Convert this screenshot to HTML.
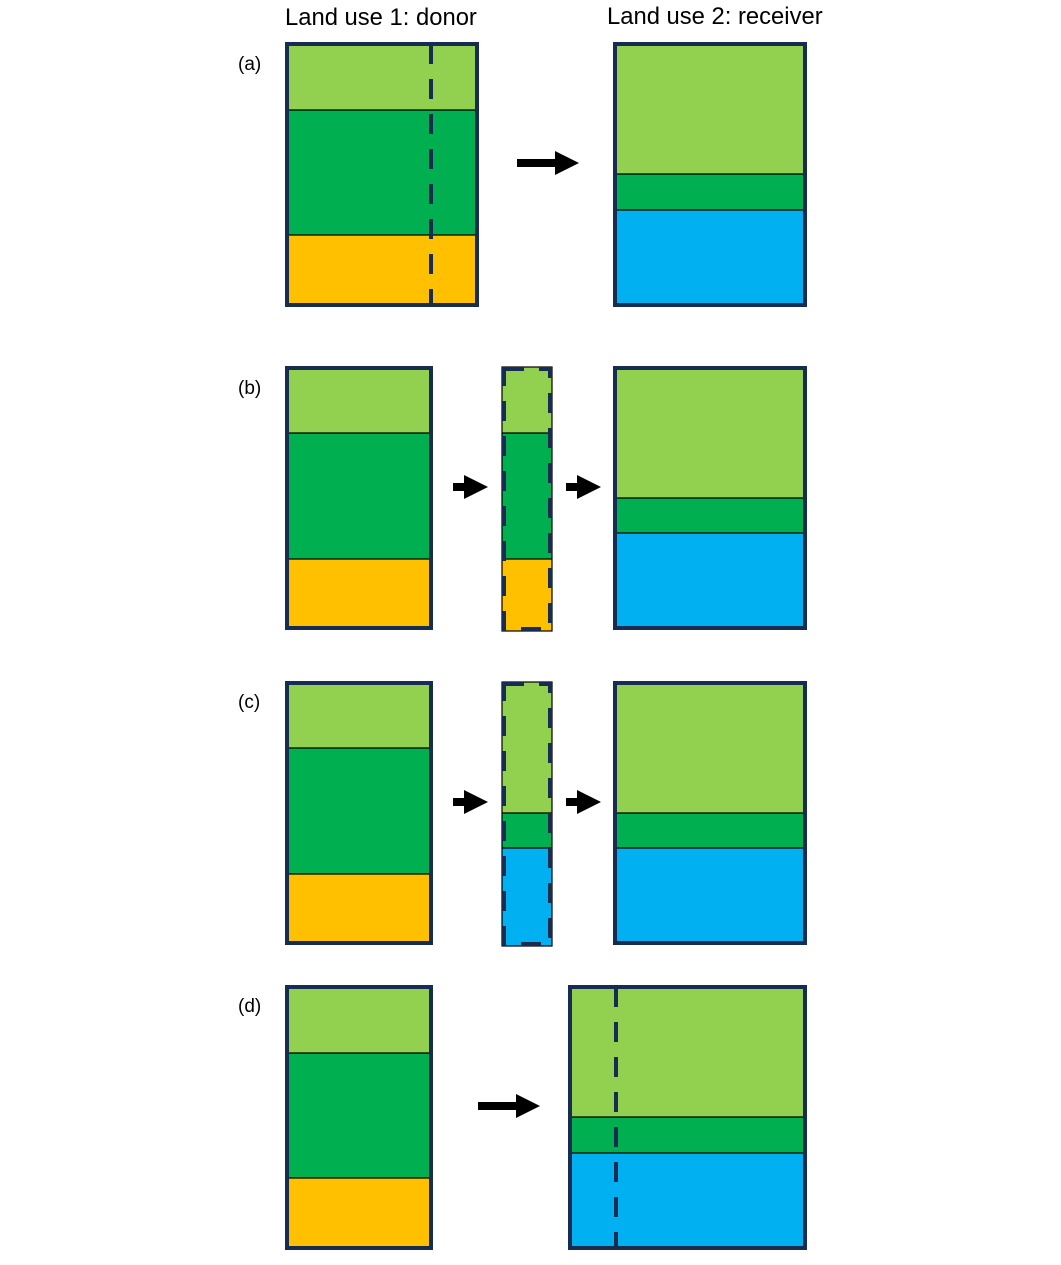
<!DOCTYPE html>
<html><head><meta charset="utf-8"><style>
html,body{margin:0;padding:0;background:#fff;width:1061px;height:1265px;overflow:hidden}
svg{display:block}
text{font-family:"Liberation Sans",sans-serif;fill:#000}
</style></head><body>
<svg width="1061" height="1265" viewBox="0 0 1061 1265" xmlns="http://www.w3.org/2000/svg">
<defs><style>
.f{stroke:#172c51;stroke-width:4;fill:none}
.ln{stroke:#000;stroke-width:1.2}
.dl{stroke:#172c51;stroke-width:4;stroke-dasharray:20 15}
.lg{fill:#92d050}.g{fill:#00b050}.y{fill:#ffc000}.b{fill:#00b0f0}
</style></defs>
<text x="285" y="25" font-size="23.8">Land use 1: donor</text>
<text x="607" y="24" font-size="23.8">Land use 2: receiver</text>
<text x="238" y="70" font-size="19">(a)</text>
<text x="238" y="394" font-size="19">(b)</text>
<text x="238" y="708" font-size="19">(c)</text>
<text x="238" y="1012" font-size="19">(d)</text>

<!-- (a) donor -->
<rect class="lg" x="287" y="44" width="190" height="66"/>
<rect class="g" x="287" y="110" width="190" height="125"/>
<rect class="y" x="287" y="235" width="190" height="70"/>
<line class="ln" x1="287" y1="110" x2="477" y2="110"/>
<line class="ln" x1="287" y1="235" x2="477" y2="235"/>
<line class="dl" x1="431" y1="44" x2="431" y2="305"/>
<rect class="f" x="287" y="44" width="190" height="261"/>
<polygon points="517,159 555,159 555,151 579,163 555,175 555,167 517,167" fill="#000"/>
<!-- (a) receiver -->
<rect class="lg" x="615" y="44" width="190" height="130"/>
<rect class="g" x="615" y="174" width="190" height="36"/>
<rect class="b" x="615" y="210" width="190" height="95"/>
<line class="ln" x1="615" y1="174" x2="805" y2="174"/>
<line class="ln" x1="615" y1="210" x2="805" y2="210"/>
<rect class="f" x="615" y="44" width="190" height="261"/>

<!-- (b) donor -->
<rect class="lg" x="287" y="368" width="144" height="65"/>
<rect class="g" x="287" y="433" width="144" height="126"/>
<rect class="y" x="287" y="559" width="144" height="69"/>
<line class="ln" x1="287" y1="433" x2="431" y2="433"/>
<line class="ln" x1="287" y1="559" x2="431" y2="559"/>
<rect class="f" x="287" y="368" width="144" height="260"/>
<polygon points="453,483 464,483 464,475 488,487 464,499 464,491 453,491" fill="#000"/>
<!-- (b) strip -->
<rect class="lg" x="502" y="367" width="50" height="66"/>
<rect class="g" x="502" y="433" width="50" height="126"/>
<rect class="y" x="502" y="559" width="50" height="72"/>
<line class="ln" x1="502" y1="433" x2="552" y2="433"/>
<line class="ln" x1="502" y1="559" x2="552" y2="559"/>
<rect x="502" y="367" width="50" height="264" fill="none" stroke="#000" stroke-width="1.2"/>
<rect x="504" y="369" width="46" height="260" fill="none" stroke="#172c51" stroke-width="4" stroke-dasharray="20 15"/>
<polygon points="566,483 577,483 577,475 601,487 577,499 577,491 566,491" fill="#000"/>
<!-- (b) receiver -->
<rect class="lg" x="615" y="368" width="190" height="130"/>
<rect class="g" x="615" y="498" width="190" height="35"/>
<rect class="b" x="615" y="533" width="190" height="95"/>
<line class="ln" x1="615" y1="498" x2="805" y2="498"/>
<line class="ln" x1="615" y1="533" x2="805" y2="533"/>
<rect class="f" x="615" y="368" width="190" height="260"/>

<!-- (c) donor -->
<rect class="lg" x="287" y="683" width="144" height="65"/>
<rect class="g" x="287" y="748" width="144" height="126"/>
<rect class="y" x="287" y="874" width="144" height="69"/>
<line class="ln" x1="287" y1="748" x2="431" y2="748"/>
<line class="ln" x1="287" y1="874" x2="431" y2="874"/>
<rect class="f" x="287" y="683" width="144" height="260"/>
<polygon points="453,798 464,798 464,790 488,802 464,814 464,806 453,806" fill="#000"/>
<!-- (c) strip -->
<rect class="lg" x="502" y="682" width="50" height="131"/>
<rect class="g" x="502" y="813" width="50" height="35"/>
<rect class="b" x="502" y="848" width="50" height="98"/>
<line class="ln" x1="502" y1="813" x2="552" y2="813"/>
<line class="ln" x1="502" y1="848" x2="552" y2="848"/>
<rect x="502" y="682" width="50" height="264" fill="none" stroke="#000" stroke-width="1.2"/>
<rect x="504" y="684" width="46" height="260" fill="none" stroke="#172c51" stroke-width="4" stroke-dasharray="20 15"/>
<polygon points="566,798 577,798 577,790 601,802 577,814 577,806 566,806" fill="#000"/>
<!-- (c) receiver -->
<rect class="lg" x="615" y="683" width="190" height="130"/>
<rect class="g" x="615" y="813" width="190" height="35"/>
<rect class="b" x="615" y="848" width="190" height="95"/>
<line class="ln" x1="615" y1="813" x2="805" y2="813"/>
<line class="ln" x1="615" y1="848" x2="805" y2="848"/>
<rect class="f" x="615" y="683" width="190" height="260"/>

<!-- (d) donor -->
<rect class="lg" x="287" y="987" width="144" height="66"/>
<rect class="g" x="287" y="1053" width="144" height="125"/>
<rect class="y" x="287" y="1178" width="144" height="70"/>
<line class="ln" x1="287" y1="1053" x2="431" y2="1053"/>
<line class="ln" x1="287" y1="1178" x2="431" y2="1178"/>
<rect class="f" x="287" y="987" width="144" height="261"/>
<polygon points="478,1102 516,1102 516,1094 540,1106 516,1118 516,1110 478,1110" fill="#000"/>
<!-- (d) receiver -->
<rect class="lg" x="570" y="987" width="235" height="130"/>
<rect class="g" x="570" y="1117" width="235" height="36"/>
<rect class="b" x="570" y="1153" width="235" height="95"/>
<line class="ln" x1="570" y1="1117" x2="805" y2="1117"/>
<line class="ln" x1="570" y1="1153" x2="805" y2="1153"/>
<line class="dl" x1="616" y1="987" x2="616" y2="1248"/>
<rect class="f" x="570" y="987" width="235" height="261"/>
</svg>
</body></html>
